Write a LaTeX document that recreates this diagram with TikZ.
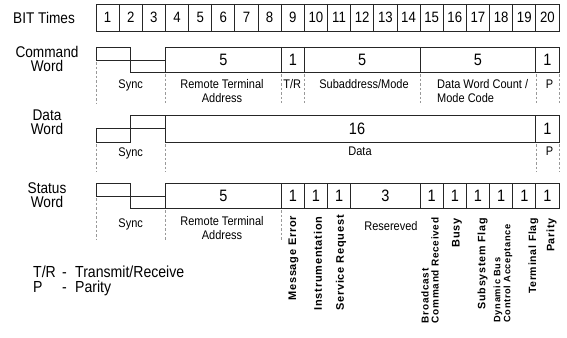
\documentclass[tikz,border=0pt]{standalone}
\usepackage{fontspec}
\setmainfont[FakeStretch=0.88]{Liberation Sans}
\newfontfamily\rotfont[LetterSpace=7]{Liberation Sans}
\newcommand\fsz[2]{\fontsize{#1}{#2}\selectfont}
\begin{document}
\begin{tikzpicture}[x=1pt,y=-1pt,
  wave/.style={draw=black!85, line width=0.9pt},
  guide/.style={draw=black!40, dash pattern=on 2.5pt off 2pt, line width=0.7pt},
  rowlbl/.style={font=\fsz{15.5}{14}, align=center, inner sep=0pt},
  bitnum/.style={font=\fsz{15}{15}, inner sep=0pt},
  num/.style={font=\fsz{16.5}{16}, inner sep=0pt},
  small/.style={font=\fsz{12.5}{14.5}, inner sep=0pt, align=center},
  rotlbl/.style={rotate=90, anchor=east, inner sep=0pt, align=left},
  legend/.style={font=\fsz{16}{16}, inner sep=0pt, anchor=base west}]
\useasboundingbox (0,0) rectangle (567,337);

% ---------- BIT Times ----------
\node[rowlbl] (lblbit) at (44,17.5) {BIT Times};
\draw[wave] (96,4) rectangle (559,31);
\foreach \i in {2,...,20} {\draw[wave] ({96+23.15*(\i-1)},4) -- ++(0,27);}
\foreach \i in {1,...,20} {\node[bitnum] (bit\i) at ({96+23.15*(\i-0.5)},17.5) {\i};}

% ---------- Command Word ----------
\node[rowlbl] (lblcmd) at (47,59) {Command\\Word};
\draw[wave] (96,60) -- (96,47) -- (130.7,47) -- (130.7,72) -- (559,72) -- (559,47) -- (165.45,47) -- (165.45,72);
\draw[wave] (96,60) -- (165.45,60);
\foreach \x in {281.2,304.35,420.1,535.85} {\draw[wave] (\x,47) -- (\x,72);}
\node[num] (c5a) at (223.3,59.5) {5};
\node[num] (c1a) at (292.8,59.5) {1};
\node[num] (c5b) at (362.2,59.5) {5};
\node[num] (c5c) at (478,59.5) {5};
\node[num] (c1b) at (547.4,59.5) {1};
\draw[guide] (96,62) -- (96,103);
\foreach \x in {165.45,281.2,304.35,420.1,535.85,559} {\draw[guide] (\x,74) -- (\x,103);}
\node[small, anchor=base] (csync) at (130.7,88) {Sync};
\node[small] (crta) at (222,91) {Remote Terminal\\Address};
\node[small, anchor=base] (ctr) at (292.3,88) {T/R};
\node[small, anchor=base] (csub) at (364,88) {Subaddress/Mode};
\node[small, anchor=west, align=left] (cdwc) at (437,91) {Data Word Count /\\Mode Code};
\node[small, anchor=base] (cp) at (549.5,88) {P};

% ---------- Data Word ----------
\node[rowlbl] (lbldata) at (47,122.5) {Data\\Word};
\draw[wave] (96,128) -- (96,142) -- (130.7,142) -- (130.7,115) -- (559,115) -- (559,142) -- (165.45,142) -- (165.45,115);
\draw[wave] (96,128) -- (165.45,128);
\draw[wave] (535.85,115) -- (535.85,142);
\node[num] (d16) at (357,128.5) {16};
\node[num] (d1) at (547.4,128.5) {1};
\foreach \x in {96,165.45,535.85,559} {\draw[guide] (\x,144) -- (\x,172);}
\node[small, anchor=base] (dsync) at (130.7,156) {Sync};
\node[small, anchor=base] (ddata) at (360,155) {Data};
\node[small, anchor=base] (dp) at (549.5,155) {P};

% ---------- Status Word ----------
\node[rowlbl] (lblstat) at (47,195.5) {Status\\Word};
\draw[wave] (96,196) -- (96,183) -- (130.7,183) -- (130.7,208) -- (559,208) -- (559,183) -- (165.45,183) -- (165.45,208);
\draw[wave] (96,196) -- (165.45,196);
\foreach \x in {281.2,304.35,327.5,350.65,420.1,443.25,466.4,489.55,512.7,535.85} {\draw[wave] (\x,183) -- (\x,208);}
\node[num] (s5) at (223.3,195.5) {5};
\node[num] (s9) at (292.8,195.5) {1};
\node[num] (s10) at (315.9,195.5) {1};
\node[num] (s11) at (339.1,195.5) {1};
\node[num] (s3) at (385.4,195.5) {3};
\node[num] (s15) at (431.7,195.5) {1};
\node[num] (s16) at (454.8,195.5) {1};
\node[num] (s17) at (478,195.5) {1};
\node[num] (s18) at (501.1,195.5) {1};
\node[num] (s19) at (524.3,195.5) {1};
\node[num] (s20) at (547.4,195.5) {1};
\draw[guide] (96,198) -- (96,240);
\foreach \x in {165.45,281.2} {\draw[guide] (\x,210) -- (\x,240);}
\node[small, anchor=base] (ssync) at (130.7,227) {Sync};
\node[small] (srta) at (222,228) {Remote Terminal\\Address};
\node[small, anchor=base] (sres) at (391,230) {Resereved};
\node[rotlbl, font=\rotfont\bfseries\fsz{11}{11}] (sme) at (293.5,215.5) {Message Error};
\node[rotlbl, font=\rotfont\bfseries\fsz{11}{11}] (sins) at (318,216.5) {Instrumentation};
\node[rotlbl, font=\rotfont\bfseries\fsz{11}{11}] (ssr) at (341,215) {Service Request};
\node[rotlbl, font=\rotfont\bfseries\fsz{10}{10}] (sbc) at (430,217.5) {Broadcast\\Command Received};
\node[rotlbl, font=\rotfont\bfseries\fsz{11}{11}] (sbusy) at (457,218) {Busy};
\node[rotlbl, font=\rotfont\bfseries\fsz{10.7}{11}] (ssub) at (482.5,218) {Subsystem Flag};
\node[rotlbl, font=\rotfont\bfseries\fsz{9.3}{10}] (sdyn) at (503,224) {Dynamic Bus\\Control Acceptance};
\node[rotlbl, font=\rotfont\bfseries\fsz{10.5}{11}] (stf) at (533.5,218) {Terminal Flag};
\node[rotlbl, font=\rotfont\bfseries\fsz{10.8}{11}] (spar) at (551.5,218) {Parity};

% ---------- Legend ----------
\node[legend] (ltr) at (33,277) {T/R};
\node[legend] (ltrd) at (62,277) {-};
\node[legend] (ltrt) at (75,277) {Transmit/Receive};
\node[legend] (lp) at (33,292) {P};
\node[legend] (lpd) at (62,292) {-};
\node[legend] (lpt) at (75,292) {Parity};
\end{tikzpicture}
\end{document}
